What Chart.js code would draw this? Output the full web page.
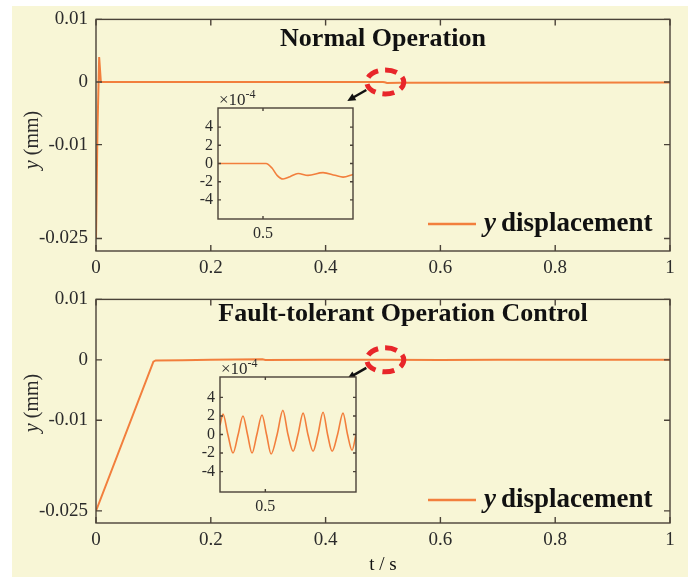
<!DOCTYPE html>
<html>
<head>
<meta charset="utf-8">
<script src="https://cdn.jsdelivr.net/npm/chart.js@4.4.0/dist/chart.umd.min.js"></script>
<style>
  html, body { margin: 0; padding: 0; background: #ffffff; }
  #panel { position: absolute; left: 12px; top: 6px; width: 676px; height: 571px; background: #f8f6d6; }
  canvas { position: absolute; }
</style>
</head>
<body>
<div id="panel"></div>
<canvas id="topMain" style="left:0;top:0"></canvas>
<canvas id="botMain" style="left:0;top:280px"></canvas>
<canvas id="topInset" style="left:180px;top:90px"></canvas>
<canvas id="botInset" style="left:180px;top:355px"></canvas>
<script>
// time axis ticks
const tTicks = [0, 0.2, 0.4, 0.6, 0.8, 1];
const yTicks = [0.01, 0, -0.01, -0.025];
const insetYTicks = [-4, -2, 0, 2, 4];
const insetXTicks = [0.5];

// Normal operation: y displacement (mm)
const normalT = [0, 0.0025, 0.0055, 0.0085, 0.5, 0.503, 0.507, 0.53, 1.0];
const normalY = [-0.025, -0.008, 0.004, 0, 0, -0.00005, -0.00017, -0.00012, -0.0001];

// Fault-tolerant operation control: y displacement (mm)
const faultT = [0, 0.1, 0.104, 0.15, 0.2, 0.29, 0.295, 0.4, 0.5, 0.6, 0.7, 0.8, 0.9, 1];
const faultY = [-0.025, -0.0003, -0.0001, -0.00005, 0, 0.00008, -0.00003, 0, 0.00003, -0.00003, 0, 0.00003, 0, 0];

// zoomed views around t = 0.5 (values in 1e-4 mm)
const normalZoomT = [0.485, 0.501, 0.503, 0.5047, 0.5067, 0.509, 0.5117, 0.515, 0.52, 0.524, 0.5267, 0.53];
const normalZoomY = [0, 0, -0.5, -1.3, -1.7, -1.45, -1.1, -1.3, -1.0, -1.3, -1.5, -1.2];

const faultZoomT = [0.485, 0.486, 0.4876, 0.4893, 0.491, 0.4926, 0.4941, 0.4956, 0.4972, 0.4989, 0.5004,
  0.5019, 0.5039, 0.5058, 0.5075, 0.5092, 0.5108, 0.5125, 0.5141, 0.5158, 0.5174, 0.5191, 0.5206,
  0.5221, 0.5239, 0.5257, 0.5272, 0.5287, 0.53];
const faultZoomY = [1.0, 2.2, 0, -2.0, 0, 2.0, 0, -2.0, 0, 2.1, 0,
  -2.1, 0, 2.6, 0, -1.8, 0, 2.3, 0, -1.8, 0, 2.4, 0,
  -1.8, 0, 2.3, 0, -1.7, 0];

const lineColor = "#f27f3d";
const axisColor = "#4a4238";
const textColor = "#2b2b2b";
const cream = "#f8f6d6";
const serif = "'Liberation Serif', 'Times New Roman', serif";

const toPoints = (xs, ys) => xs.map((x, i) => ({ x: x, y: ys[i] }));

// box round the plot with MATLAB style inner ticks
const frameTicks = {
  id: "frameTicks",
  beforeDatasetsDraw(chart) {
    const { ctx, chartArea: a } = chart;
    ctx.save();
    ctx.fillStyle = cream;
    ctx.fillRect(a.left, a.top, a.right - a.left, a.bottom - a.top);
    ctx.restore();
  },
  afterDatasetsDraw(chart, args, opts) {
    const { ctx, chartArea: a, scales } = chart;
    const len = opts.len || 5;
    ctx.save();
    ctx.strokeStyle = axisColor;
    ctx.lineWidth = 1.4;
    ctx.beginPath();
    scales.x.ticks.forEach((t) => {
      const px = scales.x.getPixelForValue(t.value);
      ctx.moveTo(px, a.bottom); ctx.lineTo(px, a.bottom - len);
      ctx.moveTo(px, a.top); ctx.lineTo(px, a.top + len);
    });
    scales.y.ticks.forEach((t) => {
      const py = scales.y.getPixelForValue(t.value);
      ctx.moveTo(a.left, py); ctx.lineTo(a.left + len, py);
      ctx.moveTo(a.right, py); ctx.lineTo(a.right - len, py);
    });
    ctx.stroke();
    ctx.strokeRect(a.left, a.top, a.right - a.left, a.bottom - a.top);
    ctx.restore();
  },
};

// titles, legend, axis names, zoom marker
const annotations = {
  id: "annotations",
  afterDraw(chart, args, o) {
    const { ctx, chartArea: a, scales } = chart;
    ctx.save();
    ctx.fillStyle = textColor;

    // title
    if (o.title) {
      ctx.font = "bold 26px " + serif;
      ctx.fillStyle = "#111";
      ctx.textAlign = "center";
      ctx.textBaseline = "middle";
      ctx.fillText(o.title, o.titleX, o.titleY);
    }

    // y axis name
    if (o.yLabelY) {
      ctx.save();
      ctx.translate(33, o.yLabelY);
      ctx.rotate(-Math.PI / 2);
      ctx.fillStyle = textColor;
      ctx.textBaseline = "middle";
      ctx.font = "italic 20px " + serif;
      const w1 = ctx.measureText("y").width;
      ctx.font = "20px " + serif;
      const w2 = ctx.measureText(" (mm)").width;
      const x0 = -(w1 + w2) / 2;
      ctx.font = "italic 20px " + serif;
      ctx.textAlign = "left";
      ctx.fillText("y", x0, 0);
      ctx.font = "20px " + serif;
      ctx.fillText(" (mm)", x0 + w1, 0);
      ctx.restore();
    }

    // x axis name
    if (o.xLabel) {
      ctx.font = "19px " + serif;
      ctx.textAlign = "center";
      ctx.textBaseline = "middle";
      ctx.fillText(o.xLabel, (a.left + a.right) / 2, o.xLabelY);
    }

    // legend
    if (o.legendY) {
      ctx.strokeStyle = lineColor;
      ctx.lineWidth = 2.5;
      ctx.beginPath();
      ctx.moveTo(428, o.legendY);
      ctx.lineTo(476, o.legendY);
      ctx.stroke();
      ctx.fillStyle = "#111";
      ctx.textAlign = "left";
      ctx.textBaseline = "alphabetic";
      ctx.font = "italic bold 27px " + serif;
      ctx.fillText("y", 484, o.legendY + 7);
      ctx.font = "bold 27px " + serif;
      ctx.fillText("displacement", 501, o.legendY + 7);
    }

    // zoom marker
    if (o.markT !== undefined) {
      const cx = scales.x.getPixelForValue(o.markT);
      const cy = scales.y.getPixelForValue(0);
      ctx.strokeStyle = "#e8262a";
      ctx.lineWidth = 5;
      ctx.setLineDash([12, 7]);
      ctx.lineDashOffset = 4;
      ctx.beginPath();
      ctx.ellipse(cx, cy, 18.5, 12, 0, 0, Math.PI * 2);
      ctx.stroke();
      ctx.setLineDash([]);
      // arrow
      const x1 = cx - 19, y1 = cy + 8, x2 = cx - 38, y2 = cy + 19;
      ctx.strokeStyle = "#111";
      ctx.fillStyle = "#111";
      ctx.lineWidth = 2.5;
      ctx.beginPath();
      ctx.moveTo(x1, y1);
      ctx.lineTo(x2 + 5, y2 - 3);
      ctx.stroke();
      const ang = Math.atan2(y2 - y1, x2 - x1);
      ctx.beginPath();
      ctx.moveTo(x2, y2);
      ctx.lineTo(x2 - 9 * Math.cos(ang - 0.45), y2 - 9 * Math.sin(ang - 0.45));
      ctx.lineTo(x2 - 9 * Math.cos(ang + 0.45), y2 - 9 * Math.sin(ang + 0.45));
      ctx.closePath();
      ctx.fill();
    }

    // exponent above the zoomed axes
    if (o.exponent) {
      ctx.fillStyle = textColor;
      ctx.textAlign = "left";
      ctx.textBaseline = "alphabetic";
      ctx.font = "17px " + serif;
      ctx.fillText("\u00d710", a.left + 1, a.top - 3);
      const w = ctx.measureText("\u00d710").width;
      ctx.font = "12px " + serif;
      ctx.fillText("-4", a.left + 1 + w, a.top - 10);
    }
    ctx.restore();
  },
};

function mainChart(id, w, h, area, xs, ys, notes) {
  const cv = document.getElementById(id);
  cv.width = w;
  cv.height = h;
  return new Chart(cv, {
    type: "line",
    data: {
      datasets: [
        {
          data: toPoints(xs, ys),
          borderColor: lineColor,
          borderWidth: 2,
          pointRadius: 0,
          tension: 0,
        },
      ],
    },
    options: {
      responsive: false,
      animation: false,
      layout: { padding: { top: area.top, right: w - area.right, left: 0, bottom: 0 } },
      plugins: {
        legend: { display: false },
        tooltip: { enabled: false },
        frameTicks: { len: 6 },
        annotations: notes,
      },
      scales: {
        x: {
          type: "linear",
          min: 0,
          max: 1,
          grid: { display: false, drawTicks: false },
          border: { display: false },
          afterBuildTicks: (s) => { s.ticks = tTicks.map((v) => ({ value: v })); },
          afterFit: (s) => { s.height = h - area.bottom; },
          ticks: {
            padding: 6,
            color: textColor,
            font: { family: serif, size: 19 },
            callback: (v) => String(v),
          },
        },
        y: {
          type: "linear",
          min: -0.027,
          max: 0.01,
          grid: { display: false, drawTicks: false },
          border: { display: false },
          afterBuildTicks: (s) => { s.ticks = yTicks.map((v) => ({ value: v })); },
          afterFit: (s) => { s.width = area.left; },
          ticks: {
            padding: 8,
            color: textColor,
            font: { family: serif, size: 19 },
            callback: (v) => String(v),
          },
        },
      },
    },
    plugins: [frameTicks, annotations],
  });
}

function insetChart(id, w, h, area, xs, ys, yRange) {
  const cv = document.getElementById(id);
  cv.width = w;
  cv.height = h;
  return new Chart(cv, {
    type: "line",
    data: {
      datasets: [
        {
          data: toPoints(xs, ys),
          borderColor: lineColor,
          borderWidth: 1.6,
          pointRadius: 0,
          cubicInterpolationMode: "monotone",
        },
      ],
    },
    options: {
      responsive: false,
      animation: false,
      layout: { padding: { top: area.top, right: w - area.right, left: 0, bottom: 0 } },
      plugins: {
        legend: { display: false },
        tooltip: { enabled: false },
        frameTicks: { len: 3 },
        annotations: { exponent: true },
      },
      scales: {
        x: {
          type: "linear",
          min: 0.485,
          max: 0.53,
          grid: { display: false, drawTicks: false },
          border: { display: false },
          afterBuildTicks: (s) => { s.ticks = insetXTicks.map((v) => ({ value: v })); },
          afterFit: (s) => { s.height = h - area.bottom; },
          ticks: {
            padding: 5,
            color: textColor,
            font: { family: serif, size: 16 },
            callback: (v) => String(v),
          },
        },
        y: {
          type: "linear",
          min: -yRange,
          max: yRange,
          grid: { display: false, drawTicks: false },
          border: { display: false },
          afterBuildTicks: (s) => { s.ticks = insetYTicks.map((v) => ({ value: v })); },
          afterFit: (s) => { s.width = area.left; },
          ticks: {
            padding: 5,
            color: textColor,
            font: { family: serif, size: 16 },
            callback: (v) => String(v),
          },
        },
      },
    },
    plugins: [frameTicks, annotations],
  });
}

mainChart("topMain", 688, 280, { left: 96, top: 17, right: 670, bottom: 251 }, normalT, normalY, {
  title: "Normal Operation", titleX: 383, titleY: 39,
  yLabelY: 140, legendY: 224, markT: 0.504,
});
mainChart("botMain", 688, 297, { left: 96, top: 11, right: 670, bottom: 243 }, faultT, faultY, {
  title: "Fault-tolerant Operation Control", titleX: 403, titleY: 34,
  yLabelY: 123, legendY: 220, markT: 0.504, xLabel: "t / s", xLabelY: 285,
});
insetChart("topInset", 185, 150, { left: 38, top: 18, right: 173, bottom: 129 }, normalZoomT, normalZoomY, 6.1);
insetChart("botInset", 190, 160, { left: 40, top: 22, right: 176, bottom: 137 }, faultZoomT, faultZoomY, 6.2);
</script>
</body>
</html>
